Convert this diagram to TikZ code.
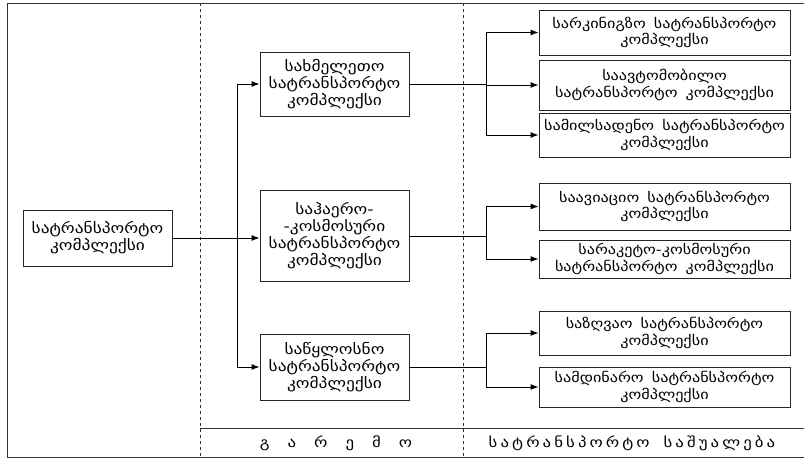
\documentclass[tikz,border=0pt]{standalone}
\usepackage{fontspec}
\newfontfamily\geofont[FakeStretch=1.2]{DejaVu Sans}
\usetikzlibrary{arrows.meta}
\tikzset{
  cbox/.style={draw, line width=0.9pt, black!85, text=black, align=center, inner sep=1pt, font=\geofont\fontsize{14.5}{17}\selectfont},
  midbox/.style={cbox, minimum width=149pt},
  subbox/.style={cbox, minimum width=251pt, font=\geofont\fontsize{13.5}{16.5}\selectfont},
  link/.style={line width=0.9pt},
  arr/.style={link, -{Latex[length=8pt,width=6pt]}},
  frame/.style={line width=1pt, black!80},
  zone/.style={line width=0.9pt, dashed, black!80}
}

\begin{document}
\begin{tikzpicture}[x=1pt,y=-1pt]
\useasboundingbox (0,0) rectangle (804,459);
% frame and zones
\draw[frame] (804,3) -- (7,3) -- (7,457) -- (804,457);
\draw[zone] (200,3) -- (200,457);
\draw[zone] (463,3) -- (463,457);
\draw[frame] (200,428) -- (804,428);
\node[font=\geofont\fontsize{14}{16}\selectfont] (env) at (336,443) {გ\hspace{18pt}ა\hspace{18pt}რ\hspace{18pt}ე\hspace{18pt}მ\hspace{18pt}ო};
\node[font=\geofont\fontsize{14}{16}\selectfont\addfontfeature{LetterSpace=22}] (means) at (632,443) {სატრანსპორტო\hspace{14pt}საშუალება};

% root
\node[cbox, minimum width=149pt, minimum height=56pt] (root) at (97.5,238) {სატრანსპორტო\\კომპლექსი};

% middle level
\node[midbox, minimum height=64pt] (land) at (334.5,84) {სახმელეთო\\სატრანსპორტო\\კომპლექსი};
\node[midbox, minimum height=91pt] (air) at (334.5,236) {საჰაერო-\\-კოსმოსური\\სატრანსპორტო\\კომპლექსი};
\node[midbox, minimum height=66pt] (water) at (334.5,367) {საწყლოსნო\\სატრანსპორტო\\კომპლექსი};

% right level
\node[subbox, minimum height=45pt] (rail) at (664.5,32.5) {სარკინიგზო\hspace{3pt} სატრანსპორტო\\კომპლექსი};
\node[subbox, minimum height=50pt] (auto) at (664.5,85) {საავტომობილო\\სატრანსპორტო\hspace{3pt} კომპლექსი};
\node[subbox, minimum height=44pt] (pipe) at (664.5,135) {სამილსადენო\hspace{3pt} სატრანსპორტო\\კომპლექსი};
\node[subbox, minimum height=47pt] (avia) at (664.5,206.5) {საავიაციო\hspace{3pt} სატრანსპორტო\\კომპლექსი};
\node[subbox, minimum height=38pt] (rocket) at (664.5,259) {სარაკეტო-კოსმოსური\\სატრანსპორტო\hspace{3pt} კომპლექსი};
\node[subbox, minimum height=44pt] (sea) at (664.5,333) {საზღვაო\hspace{3pt} სატრანსპორტო\\კომპლექსი};
\node[subbox, minimum height=40pt] (river) at (664.5,387) {სამდინარო\hspace{3pt} სატრანსპორტო\\კომპლექსი};

% connectors
\coordinate (split) at (237,238);
\draw[link] (root.east) -- (split);
\draw[arr] (split) -- (split -| air.west);
\draw[arr] (split) |- (land.west);
\draw[arr] (split) |- (water.west);

\coordinate (fork1) at (486,84);
\coordinate (fork2) at (486,236);
\coordinate (fork3) at (486,367);
\draw[link] (land.east) -- (fork1);
\draw[link] (air.east) -- (fork2);
\draw[link] (water.east) -- (fork3);
\draw[arr] (fork1) |- (rail.west);
\draw[arr] (fork1) |- (auto.west);
\draw[arr] (fork1) |- (pipe.west);
\draw[arr] (fork2) |- (avia.west);
\draw[arr] (fork2) |- (rocket.west);
\draw[arr] (fork3) |- (sea.west);
\draw[arr] (fork3) |- (river.west);
\end{tikzpicture}
\end{document}
